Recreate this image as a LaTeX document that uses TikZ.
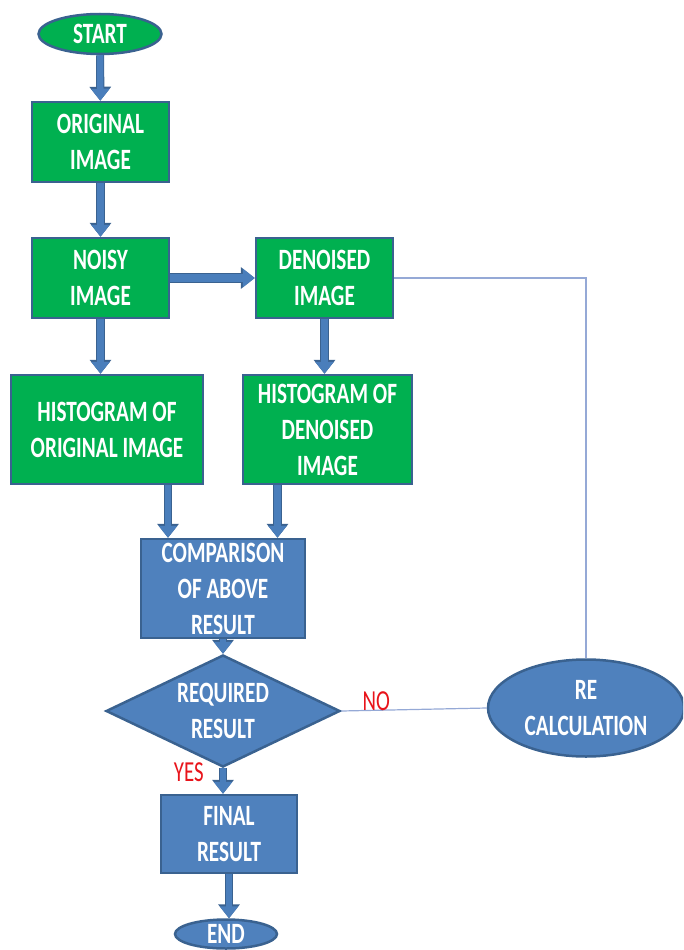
\documentclass[tikz,border=0pt]{standalone}
\usepackage{fontspec}
\setmainfont{Carlito}[FakeStretch=0.72]
\usetikzlibrary{shapes.geometric,arrows.meta}

\definecolor{flow green}{HTML}{00B050}
\definecolor{flow blue}{HTML}{4F81BD}
\definecolor{flow border}{HTML}{3A6290}
\definecolor{arrow fill color}{HTML}{4A7EBB}
\definecolor{return line color}{HTML}{95A9D6}
\definecolor{answer color}{HTML}{E8141B}
\tikzset{
    x={1pt},
    y={-1pt},
    flow box/.style={
        draw=flow border,
        fill={#1},
        line width={2.5pt},
        text=white,
        align=center,
        font={\bfseries\fontsize{29.5}{36}\selectfont},
        inner sep=0pt,
    },
    flow box/.default={flow blue},
    process/.style={
        flow box={#1}, rectangle,
    },
    terminal/.style={
        flow box={#1}, ellipse,
    },
    decision/.style={
        flow box={#1}, diamond,
        aspect=2.09,
    },
    flow arrow/.style={
        draw=arrow fill color,
        line width={#1},
        -{Triangle[width=18pt,length=12pt]},
        preaction={
            draw=flow border,
            line width={#1+1.6pt},
            -{Triangle[width=21pt,length=14pt]},
        },
    },
    flow arrow/.default={6.5pt},
    return line/.style={
        draw=return line color,
        line width={1.2pt},
    },
    answer label/.style={
        text=answer color,
        font={\fontsize{29}{36}\selectfont},
        inner sep=0pt,
    },
}

\begin{document}
\begin{tikzpicture}
\useasboundingbox (0,0) rectangle (683,950);
\clip (0,0) rectangle (683,950);
% steps
\node[terminal={flow green}, minimum width={123}, minimum height={40}] (start) at (100,34) {START};
\node[process={flow green}, minimum width={137}, minimum height={80}] (original) at (100.5,142) {ORIGINAL\\IMAGE};
\node[process={flow green}, minimum width={137}, minimum height={80}] (noisy) at (100.5,278) {NOISY\\IMAGE};
\node[process={flow green}, minimum width={137}, minimum height={80}] (denoised) at (324.5,278) {DENOISED\\IMAGE};
\node[process={flow green}, minimum width={192}, minimum height={109}] (hist original) at (107,429.5) {HISTOGRAM OF\\ORIGINAL IMAGE};
\node[process={flow green}, minimum width={169}, minimum height={109}] (hist denoised) at (327.5,429.5) {HISTOGRAM OF\\DENOISED\\IMAGE};
\node[process, minimum width={164}, minimum height={99}] (compare) at (223,588.5) {COMPARISON\\OF ABOVE\\RESULT};
\node[decision, minimum width={234}, minimum height={112}] (required) at (223,711) {REQUIRED\\RESULT};
\node[terminal, minimum width={196}, minimum height={97}] (recalc) at (586,708) {RE\\CALCULATION};
\node[process, minimum width={136}, minimum height={78}] (final) at (229,834) {FINAL\\RESULT};
\node[terminal, minimum width={102}, minimum height={29}] (end) at (226,934) {END};
% arrows
\path[flow arrow] (start) -- (original);
\path[flow arrow] (original) -- (noisy);
\path[flow arrow={8.5pt}] (noisy) -- (denoised);
\path[flow arrow] (noisy.south) -- (noisy.south |- hist original.north);
\path[flow arrow] (denoised.south) -- (denoised.south |- hist denoised.north);
\path[flow arrow] ([xshift=61]hist original.south) -- ([xshift=61]hist original.south |- compare.north);
\path[flow arrow] ([xshift=-50]hist denoised.south) -- ([xshift=-50]hist denoised.south |- compare.north);
\path[flow arrow] (compare) -- (required);
\path[flow arrow] (required.south) -- node[answer label, pos=0.15, left=16pt] {YES} (required.south |- final.north);
\path[flow arrow] (final.south) -- (final.south |- end.north);
% loop back
\path[return line] (required.east) -- node[answer label, pos=0.24, anchor=south, yshift=-1pt] {NO} (recalc.west);
\path[return line] (denoised.east) -| (recalc.north);
\end{tikzpicture}
\end{document}
